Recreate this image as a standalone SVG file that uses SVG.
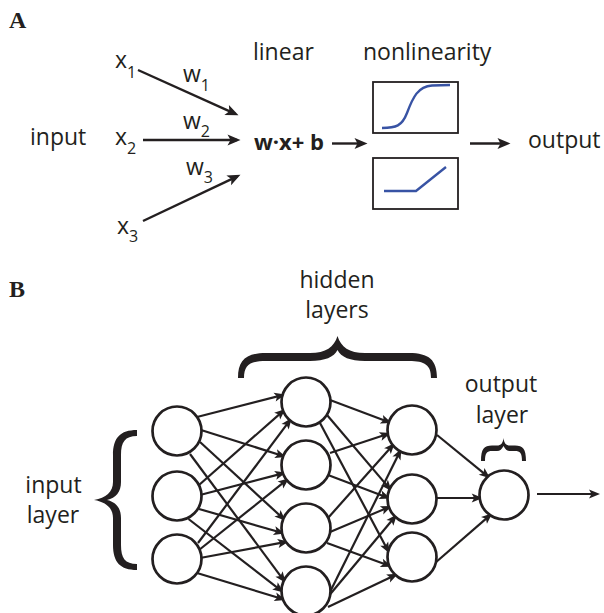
<svg xmlns="http://www.w3.org/2000/svg" width="604" height="613" viewBox="0 0 604 613">
<style>
.t{font-family:"Open Sans","DejaVu Sans",sans-serif;font-size:23px;fill:#231f20}
.lbl{font-family:"Liberation Serif",serif;font-weight:bold;font-size:24px;fill:#231f20}
.sub{font-size:16px}
.ca{stroke:#231f20;stroke-width:2.4;fill:none;marker-end:url(#ahA)}
.cb{stroke:#231f20;stroke-width:2.2;fill:none;marker-end:url(#ahB)}
.node{fill:#fff;stroke:#231f20;stroke-width:2.7}
.box{fill:#fff;stroke:#231f20;stroke-width:1.8}
.curve{fill:none;stroke:#3853a4;stroke-width:2.4}
.brace{fill:#231f20}
</style>
<defs>
<marker id="ahA" markerUnits="userSpaceOnUse" markerWidth="15" markerHeight="12" refX="9.5" refY="5.5" orient="auto" overflow="visible"><path d="M0,0 L13,5.5 L0,11 L3,5.5 Z" fill="#231f20"/></marker>
<marker id="ahB" markerUnits="userSpaceOnUse" markerWidth="12" markerHeight="10" refX="7" refY="4.5" orient="auto" overflow="visible"><path d="M0,0 L11,4.5 L0,9 L2.5,4.5 Z" fill="#231f20"/></marker>
</defs>
<rect width="604" height="613" fill="#fff"/>

<!-- Panel A -->
<text class="lbl" x="9" y="28">A</text>
<g id="a-input"><text class="t" x="30" y="145">input</text></g>
<g id="a-x1"><text class="t" x="115" y="68">x<tspan class="sub" dy="10">1</tspan></text></g>
<g id="a-x2"><text class="t" x="115" y="145">x<tspan class="sub" dy="9">2</tspan></text></g>
<g id="a-x3"><text class="t" x="117" y="234">x<tspan class="sub" dy="8">3</tspan></text></g>
<g id="a-w1"><text class="t" x="183" y="82">w<tspan class="sub" dy="9">1</tspan></text></g>
<g id="a-w2"><text class="t" x="183" y="129">w<tspan class="sub" dy="8">2</tspan></text></g>
<g id="a-w3"><text class="t" x="186" y="175">w<tspan class="sub" dy="8">3</tspan></text></g>
<g id="a-linear"><text class="t" x="253" y="60">linear</text>
<text class="t" x="254" y="150" style="font-weight:bold;font-size:22px">w·x+ b</text></g>
<g id="a-nonlin"><text class="t" x="363" y="60">nonlinearity</text>
<rect class="box" x="373" y="82" width="85" height="51"/>
<path class="curve" d="M382,128 C396,128 402,126 407,113 C413,97 418,86.5 432,85.5 L450,85"/>
<rect class="box" x="373" y="158" width="85" height="51"/>
<path class="curve" d="M384,191 L416,191 L446,167"/></g>
<g id="a-output"><text class="t" x="528" y="148">output</text></g>
<g id="a-connectors">
<line class="ca" x1="138" y1="70" x2="235.3" y2="113.8"/>
<line class="ca" x1="143" y1="140" x2="237" y2="140"/>
<line class="ca" x1="143" y1="221" x2="237.3" y2="176.3"/>
<line class="ca" x1="332" y1="143.5" x2="364" y2="143.5"/>
<line class="ca" x1="470" y1="143.5" x2="507" y2="143.5"/>
</g>

<!-- Panel B -->
<text class="lbl" x="9" y="297">B</text>
<g id="b-connectors">
<line class="cb" x1="197" y1="417" x2="281.4" y2="395.4"/>
<line class="cb" x1="201" y1="430" x2="282.3" y2="455.7"/>
<line class="cb" x1="200" y1="442" x2="282.6" y2="518"/>
<line class="cb" x1="190" y1="454" x2="283.2" y2="579.6"/>
<line class="cb" x1="199" y1="485" x2="282.4" y2="411.6"/>
<line class="cb" x1="200" y1="495" x2="282" y2="473.6"/>
<line class="cb" x1="199" y1="509" x2="280.9" y2="532.5"/>
<line class="cb" x1="188.5" y1="519" x2="280.5" y2="590.1"/>
<line class="cb" x1="198" y1="543" x2="289.3" y2="421.2"/>
<line class="cb" x1="199" y1="550" x2="285.9" y2="480.7"/>
<line class="cb" x1="200" y1="558" x2="284.8" y2="542.2"/>
<line class="cb" x1="197" y1="573" x2="281.7" y2="598.8"/>
<line class="cb" x1="330" y1="400" x2="387.9" y2="421.7"/>
<line class="cb" x1="330" y1="453" x2="386.9" y2="434.3"/>
<line class="cb" x1="328" y1="518" x2="392.1" y2="445.9"/>
<line class="cb" x1="325" y1="602" x2="399.6" y2="452.3"/>
<line class="cb" x1="327" y1="415" x2="389" y2="487.9"/>
<line class="cb" x1="328" y1="475" x2="386.6" y2="497.2"/>
<line class="cb" x1="330" y1="532" x2="388" y2="507.6"/>
<line class="cb" x1="327" y1="598" x2="394.4" y2="517.5"/>
<line class="cb" x1="320" y1="423" x2="387.5" y2="549.7"/>
<line class="cb" x1="327" y1="543" x2="387.9" y2="565.3"/>
<line class="cb" x1="328" y1="607" x2="394.4" y2="575.5"/>
<line class="cb" x1="437" y1="435" x2="487" y2="475.8"/>
<line class="cb" x1="437" y1="498" x2="478.7" y2="498"/>
<line class="cb" x1="435" y1="563" x2="489.3" y2="515.8"/>
<line class="cb" x1="537" y1="494" x2="596" y2="494"/>
</g>
<g id="in1"><circle class="node" cx="177" cy="431" r="24.5"/></g>
<g id="in2"><circle class="node" cx="177" cy="496" r="24.5"/></g>
<g id="in3"><circle class="node" cx="177" cy="559" r="24.5"/></g>
<g id="h1a"><circle class="node" cx="306" cy="402" r="24.5"/></g>
<g id="h1b"><circle class="node" cx="306" cy="465" r="24.5"/></g>
<g id="h1c"><circle class="node" cx="306" cy="528" r="24.5"/></g>
<g id="h1d"><circle class="node" cx="306" cy="591" r="24.5"/></g>
<g id="h2a"><circle class="node" cx="412" cy="430" r="24.5"/></g>
<g id="h2b"><circle class="node" cx="412" cy="499" r="24.5"/></g>
<g id="h2c"><circle class="node" cx="412" cy="557" r="24.5"/></g>
<g id="out"><circle class="node" cx="504" cy="495" r="24.5"/></g>

<g id="b-input-layer">
<text class="t" x="53.5" y="493" text-anchor="middle">input</text>
<text class="t" x="53" y="523" text-anchor="middle">layer</text>
<path class="brace" d="M137,430 C120,430 113,438 113,455 L113,482 C113,492 106,498 94,500 C106,502 113,508 113,518 L113,545 C113,562 120,570 137,570 L137,564 C125,564 121,558 121,545 L121,518 C121,508 116,502 107,500 C116,498 121,492 121,482 L121,455 C121,442 125,436 137,436 Z"/>
</g>
<g id="b-hidden-layers">
<text class="t" x="337" y="288" text-anchor="middle">hidden</text>
<text class="t" x="337" y="318" text-anchor="middle">layers</text>
<path class="brace" d="M238,378 C238,360 246,353 266,353 L310,353 C326,353 334,347 337.5,336 C341,347 349,353 365,353 L409,353 C429,353 437,360 437,378 L431,378 C431,365 425,361 409,361 L365,361 C350,361 341,357 337.5,350 C334,357 325,361 310,361 L266,361 C250,361 244,365 244,378 Z"/>
</g>
<g id="b-output-layer">
<text class="t" x="501" y="392" text-anchor="middle">output</text>
<text class="t" x="502" y="423" text-anchor="middle">layer</text>
<path class="brace" d="M481,461 C481,449 484,445.5 492,445.5 L497,445.5 C501,445.5 503,443 503.5,438 C504,443 506,445.5 510,445.5 L515,445.5 C523,445.5 526,449 526,461 L522,461 C522,453 520,451 515,451 L510,451 C507,451 505,449 503.5,446 C502,449 500,451 497,451 L492,451 C487,451 485,453 485,461 Z"/>
</g>
</svg>
